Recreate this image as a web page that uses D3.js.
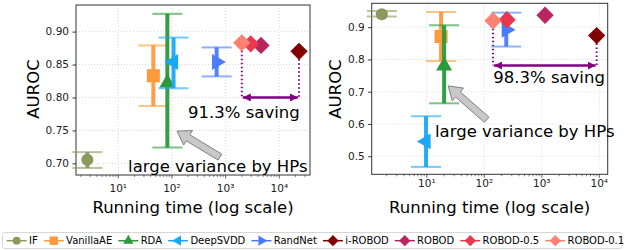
<!DOCTYPE html>
<html>
<head>
<meta charset="utf-8">
<script src="https://cdn.jsdelivr.net/npm/d3@7"></script>
<style>
  body { margin: 0; background: #fff; }
  svg { font-family: "DejaVu Sans", sans-serif; }
</style>
</head>
<body>
<script>
// series names, colours and marker shapes
var methods = ["IF", "VanillaAE", "RDA", "DeepSVDD", "RandNet", "i-ROBOD", "ROBOD", "ROBOD-0.5", "ROBOD-0.1"];
var colors  = ["#8a9a5b", "#ff9a3c", "#2a9a3a", "#1aa8f5", "#4a7bff", "#800000", "#b8255f", "#e8384f", "#fc8172"];
var shapes  = ["circle", "square", "up", "left", "right", "diamond", "diamond", "diamond", "diamond"];

// left panel: running time (s) and AUROC, error bars where there are any
var timeA  = [2.65, 45, 82, 107, 680, 23300, 4560, 2930, 2000];
var aurocA = [0.7055, 0.833, 0.822, 0.854, 0.854, 0.870, 0.879, 0.8815, 0.883];
var loA    = [0.693, 0.787, 0.724, 0.814, 0.832];
var hiA    = [0.717, 0.879, 0.927, 0.891, 0.876];

// right panel
var timeB  = [1.65, 17.7, 20, 9.7, 241, 9000, 1140, 248, 142];
var aurocB = [0.940, 0.871, 0.780, 0.546, 0.892, 0.874, 0.937, 0.923, 0.920];
var loB    = [0.933, 0.795, 0.664, 0.467, 0.840];
var hiB    = [0.950, 0.947, 0.906, 0.624, 0.945];

var yTicksA = [0.70, 0.75, 0.80, 0.85, 0.90];
var yTicksB = [0.5, 0.6, 0.7, 0.8, 0.9];
var xTicks  = [10, 100, 1000, 10000];

var svg = d3.select("body").append("svg")
    .attr("width", 625)
    .attr("height", 250);

var panels = [
  { time: timeA, auroc: aurocA, lo: loA, hi: hiA,
    left: 76, right: 310, top: 5, bottom: 175,
    xDomain: [1.63, 37300], yDomain: [0.6823, 0.9404],
    yTicks: yTicksA, yFmt: d3.format(".2f"), tickBase: 191.5, labelX: 33,
    arrowY: 0.80, saving: "91.3% saving", savingPos: [200, 0.769],
    hpText: [15.2, 0.687], hpTail: [783, 0.7095], hpTip: [124, 0.749] },
  { time: timeB, auroc: aurocB, lo: loB, hi: hiB,
    left: 371.7, right: 607.7, top: 3.3, bottom: 174.3,
    xDomain: [1.10, 14000], yDomain: [0.444, 0.974],
    yTicks: yTicksB, yFmt: d3.format(".1f"), tickBase: 186.5, labelX: 335,
    arrowY: 0.781, saving: "98.3% saving", savingPos: [143, 0.726],
    hpText: [13.9, 0.560], hpTail: [110, 0.613], hpTip: [23.5, 0.718] }
];

var supers = {"1": "\u00b9", "2": "\u00b2", "3": "\u00b3", "4": "\u2074"};

function symbolPath(shape, size) {
  if (shape == "circle") return d3.symbol(d3.symbolCircle, size)();
  if (shape == "square" || shape == "diamond") return d3.symbol(d3.symbolSquare, size)();
  return d3.symbol(d3.symbolTriangle, size)();
}
function symbolRotate(shape) {
  if (shape == "diamond") return 45;
  if (shape == "left") return -90;
  if (shape == "right") return 90;
  return 0;
}
var symSize = { circle: 115, square: 170, up: 110, left: 110, right: 110, diamond: 150 };

// purple double headed arrow marker
var defs = svg.append("defs");
["start", "end"].forEach(function(k) {
  defs.append("marker")
      .attr("id", "ph-" + k)
      .attr("viewBox", "0 0 10 10")
      .attr("refX", 10).attr("refY", 5)
      .attr("markerWidth", 3.2).attr("markerHeight", 3.2)
      .attr("markerUnits", "strokeWidth")
      .attr("orient", k == "end" ? "auto" : "auto-start-reverse")
    .append("path")
      .attr("d", "M0,0L10,5L0,10z")
      .attr("fill", "#800080");
});

panels.forEach(function(p, pi) {
  var x = d3.scaleLog().domain(p.xDomain).range([p.left, p.right]);
  var y = d3.scaleLinear().domain(p.yDomain).range([p.bottom, p.top]);
  var g = svg.append("g");

  // grid
  g.selectAll(".gx").data(xTicks).enter().append("line")
      .attr("x1", function(d) { return x(d); }).attr("x2", function(d) { return x(d); })
      .attr("y1", p.top).attr("y2", p.bottom)
      .attr("stroke", "#d0d0d0").attr("stroke-width", 0.8).attr("stroke-dasharray", "1,2");
  g.selectAll(".gy").data(p.yTicks).enter().append("line")
      .attr("x1", p.left).attr("x2", p.right)
      .attr("y1", function(d) { return y(d); }).attr("y2", function(d) { return y(d); })
      .attr("stroke", "#d0d0d0").attr("stroke-width", 0.8).attr("stroke-dasharray", "1,2");

  // y axis
  var ya = g.append("g")
      .attr("transform", "translate(" + p.left + ",0)")
      .call(d3.axisLeft(y).tickValues(p.yTicks).tickFormat(p.yFmt).tickSize(3.5).tickPadding(3.5));
  ya.select(".domain").remove();
  ya.selectAll("text").attr("font-size", "10.5px").attr("fill", "#222").attr("font-family", "DejaVu Sans");
  ya.selectAll("line").attr("stroke", "#333");

  // x axis: major and minor log ticks
  var minor = [];
  for (var e = 0; e < 5; e++) for (var m = 2; m < 10; m++) {
    var v = m * Math.pow(10, e);
    if (v > p.xDomain[0] && v < p.xDomain[1]) minor.push(v);
  }
  g.selectAll(".mt").data(minor).enter().append("line")
      .attr("x1", function(d) { return x(d); }).attr("x2", function(d) { return x(d); })
      .attr("y1", p.bottom).attr("y2", p.bottom + 2)
      .attr("stroke", "#333").attr("stroke-width", 0.6);
  g.selectAll(".Mt").data(xTicks).enter().append("line")
      .attr("x1", function(d) { return x(d); }).attr("x2", function(d) { return x(d); })
      .attr("y1", p.bottom).attr("y2", p.bottom + 3.5)
      .attr("stroke", "#333").attr("stroke-width", 0.8);
  g.selectAll(".xl").data(xTicks).enter().append("text")
      .attr("x", function(d) { return x(d); })
      .attr("y", p.tickBase)
      .attr("text-anchor", "middle")
      .attr("font-size", "10.5px").attr("fill", "#222")
      .text(function(d) { return "10" + supers[String(Math.round(Math.log10(d)))]; });

  // frame
  g.append("rect")
      .attr("x", p.left).attr("y", p.top)
      .attr("width", p.right - p.left).attr("height", p.bottom - p.top)
      .attr("fill", "none").attr("stroke", "#333").attr("stroke-width", 1);

  // axis titles
  g.append("text")
      .attr("x", (p.left + p.right) / 2).attr("y", 212.5)
      .attr("text-anchor", "middle").attr("font-size", "16.5px")
      .text("Running time (log scale)");
  g.append("text")
      .attr("transform", "translate(" + p.labelX + ",89) rotate(-90)")
      .attr("text-anchor", "middle").attr("dominant-baseline", "central")
      .attr("font-size", "16.5px")
      .text("AUROC");

  // dotted drop lines and saving arrow between ROBOD-0.1 and i-ROBOD
  var xa = x(p.time[8]), xb = x(p.time[5]);
  [[8], [5]].forEach(function(k) {
    g.append("line")
        .attr("x1", x(p.time[k[0]])).attr("x2", x(p.time[k[0]]))
        .attr("y1", y(p.auroc[k[0]])).attr("y2", y(p.arrowY))
        .attr("stroke", "#800080").attr("stroke-width", 2).attr("stroke-dasharray", "1.5,2.5");
  });
  g.append("line")
      .attr("x1", xa + 1).attr("x2", xb - 1)
      .attr("y1", y(p.arrowY)).attr("y2", y(p.arrowY))
      .attr("stroke", "#800080").attr("stroke-width", 2.5)
      .attr("marker-start", "url(#ph-start)")
      .attr("marker-end", "url(#ph-end)");

  // error bars and markers
  methods.forEach(function(name, i) {
    var cx = x(p.time[i]), cy = y(p.auroc[i]);
    if (i < p.lo.length) {
      g.append("line")
          .attr("x1", cx).attr("x2", cx)
          .attr("y1", y(p.lo[i])).attr("y2", y(p.hi[i]))
          .attr("stroke", colors[i]).attr("stroke-width", 4).attr("opacity", 0.95);
      [p.lo[i], p.hi[i]].forEach(function(v) {
        g.append("line")
            .attr("x1", cx - 15).attr("x2", cx + 15)
            .attr("y1", y(v)).attr("y2", y(v))
            .attr("stroke", colors[i]).attr("stroke-width", 2).attr("opacity", 0.6);
      });
    }
    g.append("path")
        .attr("d", symbolPath(shapes[i], symSize[shapes[i]]))
        .attr("transform", "translate(" + cx + "," + cy + ") rotate(" + symbolRotate(shapes[i]) + ")")
        .attr("fill", colors[i]);
  });

  // annotations
  g.append("text")
      .attr("x", x(p.savingPos[0])).attr("y", y(p.savingPos[1]))
      .attr("font-size", "16.5px")
      .text(p.saving);
  g.append("text")
      .attr("x", x(p.hpText[0])).attr("y", y(p.hpText[1]))
      .attr("font-size", "16.5px")
      .text("large variance by HPs");

  // grey fancy arrow
  var tx = x(p.hpTail[0]), ty = y(p.hpTail[1]);
  var hx = x(p.hpTip[0]), hy = y(p.hpTip[1]);
  var dx = hx - tx, dy = hy - ty, L = Math.sqrt(dx * dx + dy * dy);
  var ux = dx / L, uy = dy / L, nx = -uy, ny = ux;
  var sw = 3.5, hw = 8.5, hl = 13;
  var bx = hx - ux * hl, by = hy - uy * hl;
  var pts = [
    [tx + nx * sw, ty + ny * sw], [bx + nx * sw, by + ny * sw], [bx + nx * hw, by + ny * hw],
    [hx, hy],
    [bx - nx * hw, by - ny * hw], [bx - nx * sw, by - ny * sw], [tx - nx * sw, ty - ny * sw]
  ];
  g.append("path")
      .attr("d", "M" + pts.map(function(q) { return q[0] + "," + q[1]; }).join("L") + "Z")
      .attr("fill", "#c8c8c8").attr("stroke", "#808080").attr("stroke-width", 1);
});

// legend
var leg = svg.append("g");
leg.append("rect")
    .attr("x", 2.5).attr("y", 232.5).attr("width", 619.5).attr("height", 16)
    .attr("rx", 2).attr("fill", "#fff").attr("stroke", "#cccccc").attr("stroke-width", 0.8);
var lx = 6.7, ly = 240.7;
methods.forEach(function(name, i) {
  var it = leg.append("g");
  it.append("line")
      .attr("x1", lx).attr("x2", lx + 20).attr("y1", ly).attr("y2", ly)
      .attr("stroke", colors[i]).attr("stroke-width", 1.5);
  it.append("path")
      .attr("d", symbolPath(shapes[i], symSize[shapes[i]] * 0.42))
      .attr("transform", "translate(" + (lx + 10) + "," + ly + ") rotate(" + symbolRotate(shapes[i]) + ")")
      .attr("fill", colors[i]);
  var t = it.append("text")
      .attr("x", lx + 22.3).attr("y", ly + 3.6)
      .attr("font-size", "10px")
      .text(name);
  lx += 22.3 + t.node().getComputedTextLength() + 6.1;
});
</script>
</body>
</html>
